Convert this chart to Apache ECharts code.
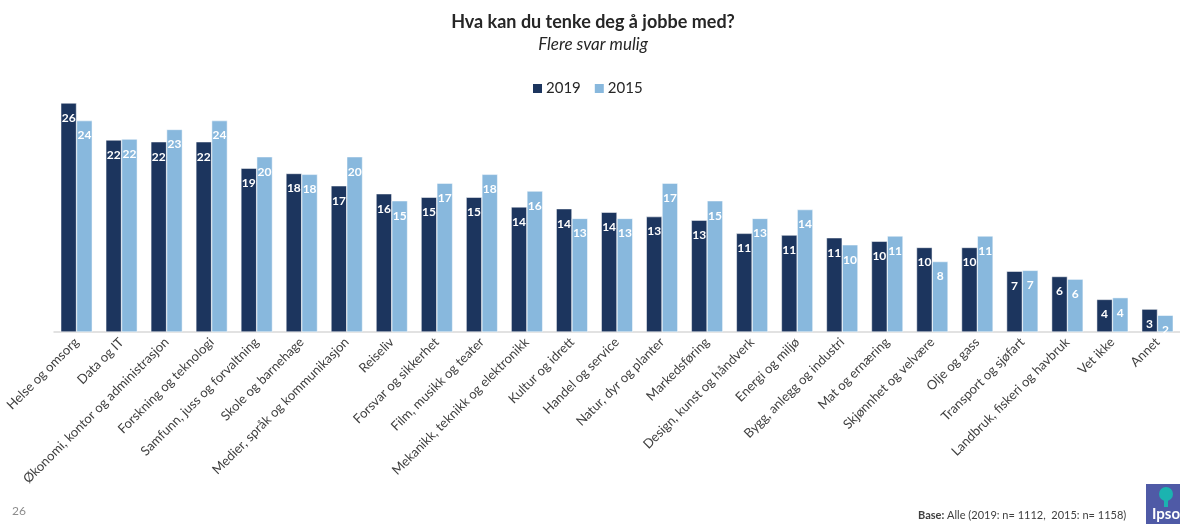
<!DOCTYPE html>
<html>
<head>
<meta charset="utf-8">
<script src="https://cdn.jsdelivr.net/npm/echarts@6/dist/echarts.min.js"></script>
<style>
  html, body { margin: 0; padding: 0; background: #fff; }
  #chart { width: 1180px; height: 524px; }
</style>
</head>
<body>
<div id="chart"></div>
<script>
let categories = ["Helse og omsorg", "Data og IT", "Økonomi, kontor og administrasjon", "Forskning og teknologi",
    "Samfunn, juss og forvaltning", "Skole og barnehage", "Medier, språk og kommunikasjon", "Reiseliv",
    "Forsvar og sikkerhet", "Film, musikk og teater", "Mekanikk, teknikk og elektronikk", "Kultur og idrett",
    "Handel og service", "Natur, dyr og planter", "Markedsføring", "Design, kunst og håndverk",
    "Energi og miljø", "Bygg, anlegg og industri", "Mat og ernæring", "Skjønnhet og velvære",
    "Olje og gass", "Transport og sjøfart", "Landbruk, fiskeri og havbruk", "Vet ikke", "Annet"];

let values2019 = [26.0, 21.8, 21.6, 21.6, 18.6, 18.0, 16.6, 15.7, 15.3, 15.3, 14.2, 14.0, 13.6,
    13.1, 12.7, 11.2, 11.0, 10.7, 10.3, 9.6, 9.6, 6.9, 6.3, 3.7, 2.6];
let values2015 = [24.0, 21.9, 23.0, 24.0, 19.9, 17.9, 19.9, 14.9, 16.9, 17.9, 16.0, 12.9, 12.9,
    16.9, 14.9, 12.9, 13.9, 9.9, 10.9, 8.0, 10.9, 7.0, 6.0, 3.9, 1.9];

let seriesNames = ["2019", "2015"];
let colors = ["#1c355e", "#88b8dd"];

let font = "Lato, 'Liberation Sans', sans-serif";

let chart = echarts.init(document.getElementById("chart"));

function makeSeries(name, data, color) {
    return {
        name: name,
        type: "bar",
        data: data,
        barGap: "0%",
        barCategoryGap: "30%",
        itemStyle: { color: color, borderColor: "#ffffff", borderWidth: 0.5 },
        label: {
            show: true,
            position: "insideTop",
            distance: 9,
            color: "#ffffff",
            fontWeight: "bold",
            fontSize: 12,
            fontFamily: font,
            formatter: p => Math.round(p.value)
        }
    };
}

let option = {
    animation: false,
    backgroundColor: "#ffffff",
    title: {
        text: "Hva kan du tenke deg å jobbe med?",
        subtext: "Flere svar mulig",
        left: 588,
        textAlign: "center",
        top: 8,
        itemGap: 5,
        textStyle: { fontFamily: font, fontSize: 18, fontWeight: "bold", color: "#262626" },
        subtextStyle: { fontFamily: font, fontSize: 17, fontStyle: "italic", color: "#262626" }
    },
    legend: {
        data: seriesNames,
        top: 76,
        left: 526,
        itemWidth: 11,
        itemHeight: 11,
        itemGap: 12,
        icon: "rect",
        textStyle: { fontFamily: font, fontSize: 15, color: "#262626", padding: [0, 0, 0, -2] }
    },
    grid: {
        left: 54,
        right: -10,
        top: 103,
        bottom: 192,
        containLabel: false
    },
    xAxis: {
        type: "category",
        data: categories,
        axisLine: { lineStyle: { color: "#d9d9d9", width: 1.5 } },
        axisTick: { show: false },
        axisLabel: {
            interval: 0,
            rotate: 45,
            margin: 8,
            fontFamily: font,
            fontSize: 13,
            color: "#404040"
        }
    },
    yAxis: {
        type: "value",
        min: 0,
        max: 26,
        show: false,
        splitLine: { show: false }
    },
    series: [
        makeSeries(seriesNames[0], values2019, colors[0]),
        makeSeries(seriesNames[1], values2015, colors[1])
    ],
    graphic: [
        {
            type: "text",
            left: 12,
            top: 505,
            style: { text: "26", fontFamily: font, fontSize: 12, fill: "#8c8c8c" }
        },
        {
            type: "text",
            left: 918,
            top: 510,
            style: {
                text: "{b|Base:} Alle (2019: n= 1112,  2015: n= 1158)",
                fontFamily: font,
                fontSize: 11,
                fill: "#404040",
                rich: { b: { fontWeight: "bold", fontFamily: font, fontSize: 11, fill: "#404040" } }
            }
        },
        {
            type: "group",
            left: 1146,
            top: 484,
            children: [
                { type: "rect", shape: { x: 0, y: 0, width: 40, height: 40 }, style: { fill: "#4f5aa6" } },
                { type: "circle", shape: { cx: 20, cy: 10, r: 7 }, style: { fill: "#1bb3b0" } },
                { type: "rect", shape: { x: 18, y: 13, width: 4, height: 10 }, style: { fill: "#1bb3b0" } },
                {
                    type: "text",
                    style: { x: 6, y: 23, text: "Ipsos", fontFamily: font, fontSize: 15, fontWeight: "bold", fill: "#ffffff" }
                }
            ]
        }
    ]
};

chart.setOption(option);
</script>
</body>
</html>
